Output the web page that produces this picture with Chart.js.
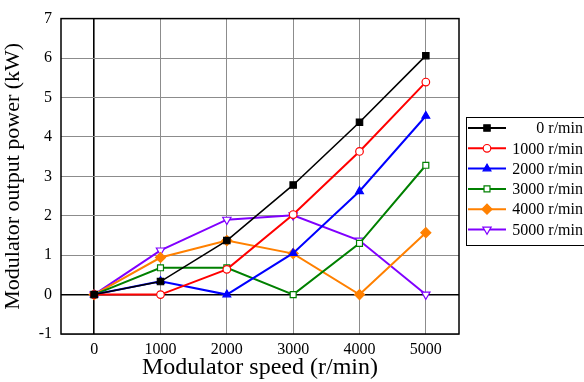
<!DOCTYPE html>
<html>
<head>
<meta charset="utf-8">
<script src="https://cdn.jsdelivr.net/npm/chart.js"></script>
<style>
  html, body { margin: 0; padding: 0; background: #fff; }
  #wrap { width: 584px; height: 382px; }
</style>
</head>
<body>
<div id="wrap"><canvas id="powerChart" width="584" height="382"></canvas></div>
<script>
// speeds on the x axis (r/min)
const speeds = [0, 1000, 2000, 3000, 4000, 5000];
const xTicks = [0, 1000, 2000, 3000, 4000, 5000];
const yTicks = [-1, 0, 1, 2, 3, 4, 5, 6, 7];

// output power (kW) for each modulator setting
const seriesNames = ['0 r/min', '1000 r/min', '2000 r/min', '3000 r/min', '4000 r/min', '5000 r/min'];
const power0    = [0, 0.33, 1.37, 2.78, 4.37, 6.06];
const power1000 = [0, 0.00, 0.64, 2.03, 3.63, 5.39];
const power2000 = [0, 0.34, 0.00, 1.05, 2.62, 4.53];
const power3000 = [0, 0.68, 0.68, 0.00, 1.30, 3.28];
const power4000 = [0, 0.94, 1.37, 1.04, 0.00, 1.57];
const power5000 = [0, 1.12, 1.90, 2.01, 1.37, 0.00];

const FONT = '"Liberation Serif", "Times New Roman", serif';

function series(label, values, color, style, filled, rotation, radius, width) {
    return {
        label,
        data: speeds.map((s, i) => ({ x: s, y: values[i] })),
        borderColor: color,
        backgroundColor: filled ? color : '#fff',
        pointBorderColor: color,
        pointBackgroundColor: filled ? color : '#fff',
        pointStyle: style,
        pointRotation: rotation || 0,
        pointRadius: radius,
        pointBorderWidth: 1.2,
        borderWidth: width,
        tension: 0
    };
}

const datasets = [
    series(seriesNames[0], power0, '#000000', 'rect', true, 0, 4.5, 1.6),
    series(seriesNames[1], power1000, '#ff0000', 'circle', false, 0, 3.8, 2),
    series(seriesNames[2], power2000, '#0000ff', 'triangle', true, 0, 4.5, 2),
    series(seriesNames[3], power3000, '#008000', 'rect', false, 0, 4.2, 2),
    series(seriesNames[4], power4000, '#ff8000', 'rectRot', true, 0, 5, 2),
    series(seriesNames[5], power5000, '#8000ff', 'triangle', false, 180, 4.8, 2)
];

// plot frame
const framePlugin = {
    id: 'frame',
    afterDatasetsDraw(chart) {
        const a = chart.chartArea;
        const ctx = chart.ctx;
        ctx.save();
        ctx.strokeStyle = '#000';
        ctx.lineWidth = 1.5;
        ctx.strokeRect(a.left, a.top, a.right - a.left, a.bottom - a.top);
        ctx.restore();
    }
};

// boxed legend on the right
const legendBoxPlugin = {
    id: 'legendBox',
    afterDraw(chart) {
        const ctx = chart.ctx;
        const bx = 466, by = 117, bw = 130, bh = 128;
        ctx.save();
        ctx.fillStyle = '#fff';
        ctx.fillRect(bx, by, bw, bh);
        ctx.strokeStyle = '#000';
        ctx.lineWidth = 1;
        ctx.strokeRect(bx + 0.5, by + 0.5, bw, bh);
        ctx.font = '16px ' + FONT;
        ctx.textAlign = 'right';
        ctx.textBaseline = 'middle';
        chart.data.datasets.forEach((ds, i) => {
            const y = by + 11 + i * 20.3;
            ctx.strokeStyle = ds.borderColor;
            ctx.lineWidth = 2;
            ctx.beginPath();
            ctx.moveTo(bx + 2, y);
            ctx.lineTo(bx + 40, y);
            ctx.stroke();
            ctx.lineWidth = ds.pointBorderWidth;
            ctx.strokeStyle = ds.pointBorderColor;
            ctx.fillStyle = ds.pointBackgroundColor;
            Chart.helpers.drawPoint(ctx, {
                pointStyle: ds.pointStyle,
                rotation: ds.pointRotation,
                radius: ds.pointRadius,
                borderWidth: ds.pointBorderWidth
            }, bx + 21, y);
            ctx.fillStyle = '#000';
            ctx.fillText(ds.label, 583, y + 1);
        });
        ctx.restore();
    }
};

new Chart(document.getElementById('powerChart'), {
    type: 'line',
    data: { datasets },
    options: {
        responsive: false,
        animation: false,
        layout: { padding: { top: 15, right: 125, left: 0, bottom: 0 } },
        plugins: {
            legend: { display: false },
            tooltip: { enabled: false }
        },
        scales: {
            x: {
                type: 'linear',
                min: -500,
                max: 5500,
                afterBuildTicks: (scale) => { scale.ticks = xTicks.map(v => ({ value: v })); },
                afterFit: (scale) => { scale.height = 48; },
                grid: {
                    color: (c) => c.tick && c.tick.value === 0 ? '#000' : '#8c8c8c',
                    lineWidth: (c) => c.tick && c.tick.value === 0 ? 1.6 : 1,
                    drawTicks: false
                },
                border: { display: false },
                ticks: {
                    color: '#000',
                    font: { family: FONT, size: 16 },
                    padding: 6,
                    maxRotation: 0,
                    callback: (v) => String(v)
                },
                title: {
                    display: true,
                    text: 'Modulator speed (r/min)',
                    color: '#000',
                    font: { family: FONT, size: 24 },
                    padding: { top: -3, bottom: 0 }
                }
            },
            y: {
                min: -1,
                max: 7,
                afterBuildTicks: (scale) => { scale.ticks = yTicks.map(v => ({ value: v })); },
                afterFit: (scale) => { scale.width = 61; },
                grid: {
                    color: (c) => c.tick && c.tick.value === 0 ? '#000' : '#8c8c8c',
                    lineWidth: (c) => c.tick && c.tick.value === 0 ? 1.6 : 1,
                    drawTicks: false
                },
                border: { display: false },
                ticks: {
                    color: '#000',
                    font: { family: FONT, size: 16 },
                    padding: 9
                },
                title: {
                    display: true,
                    text: 'Modulator output power (kW)',
                    color: '#000',
                    font: { family: FONT, size: 22 },
                    padding: { top: 0, bottom: 1 }
                }
            }
        }
    },
    plugins: [framePlugin, legendBoxPlugin]
});
</script>
</body>
</html>
